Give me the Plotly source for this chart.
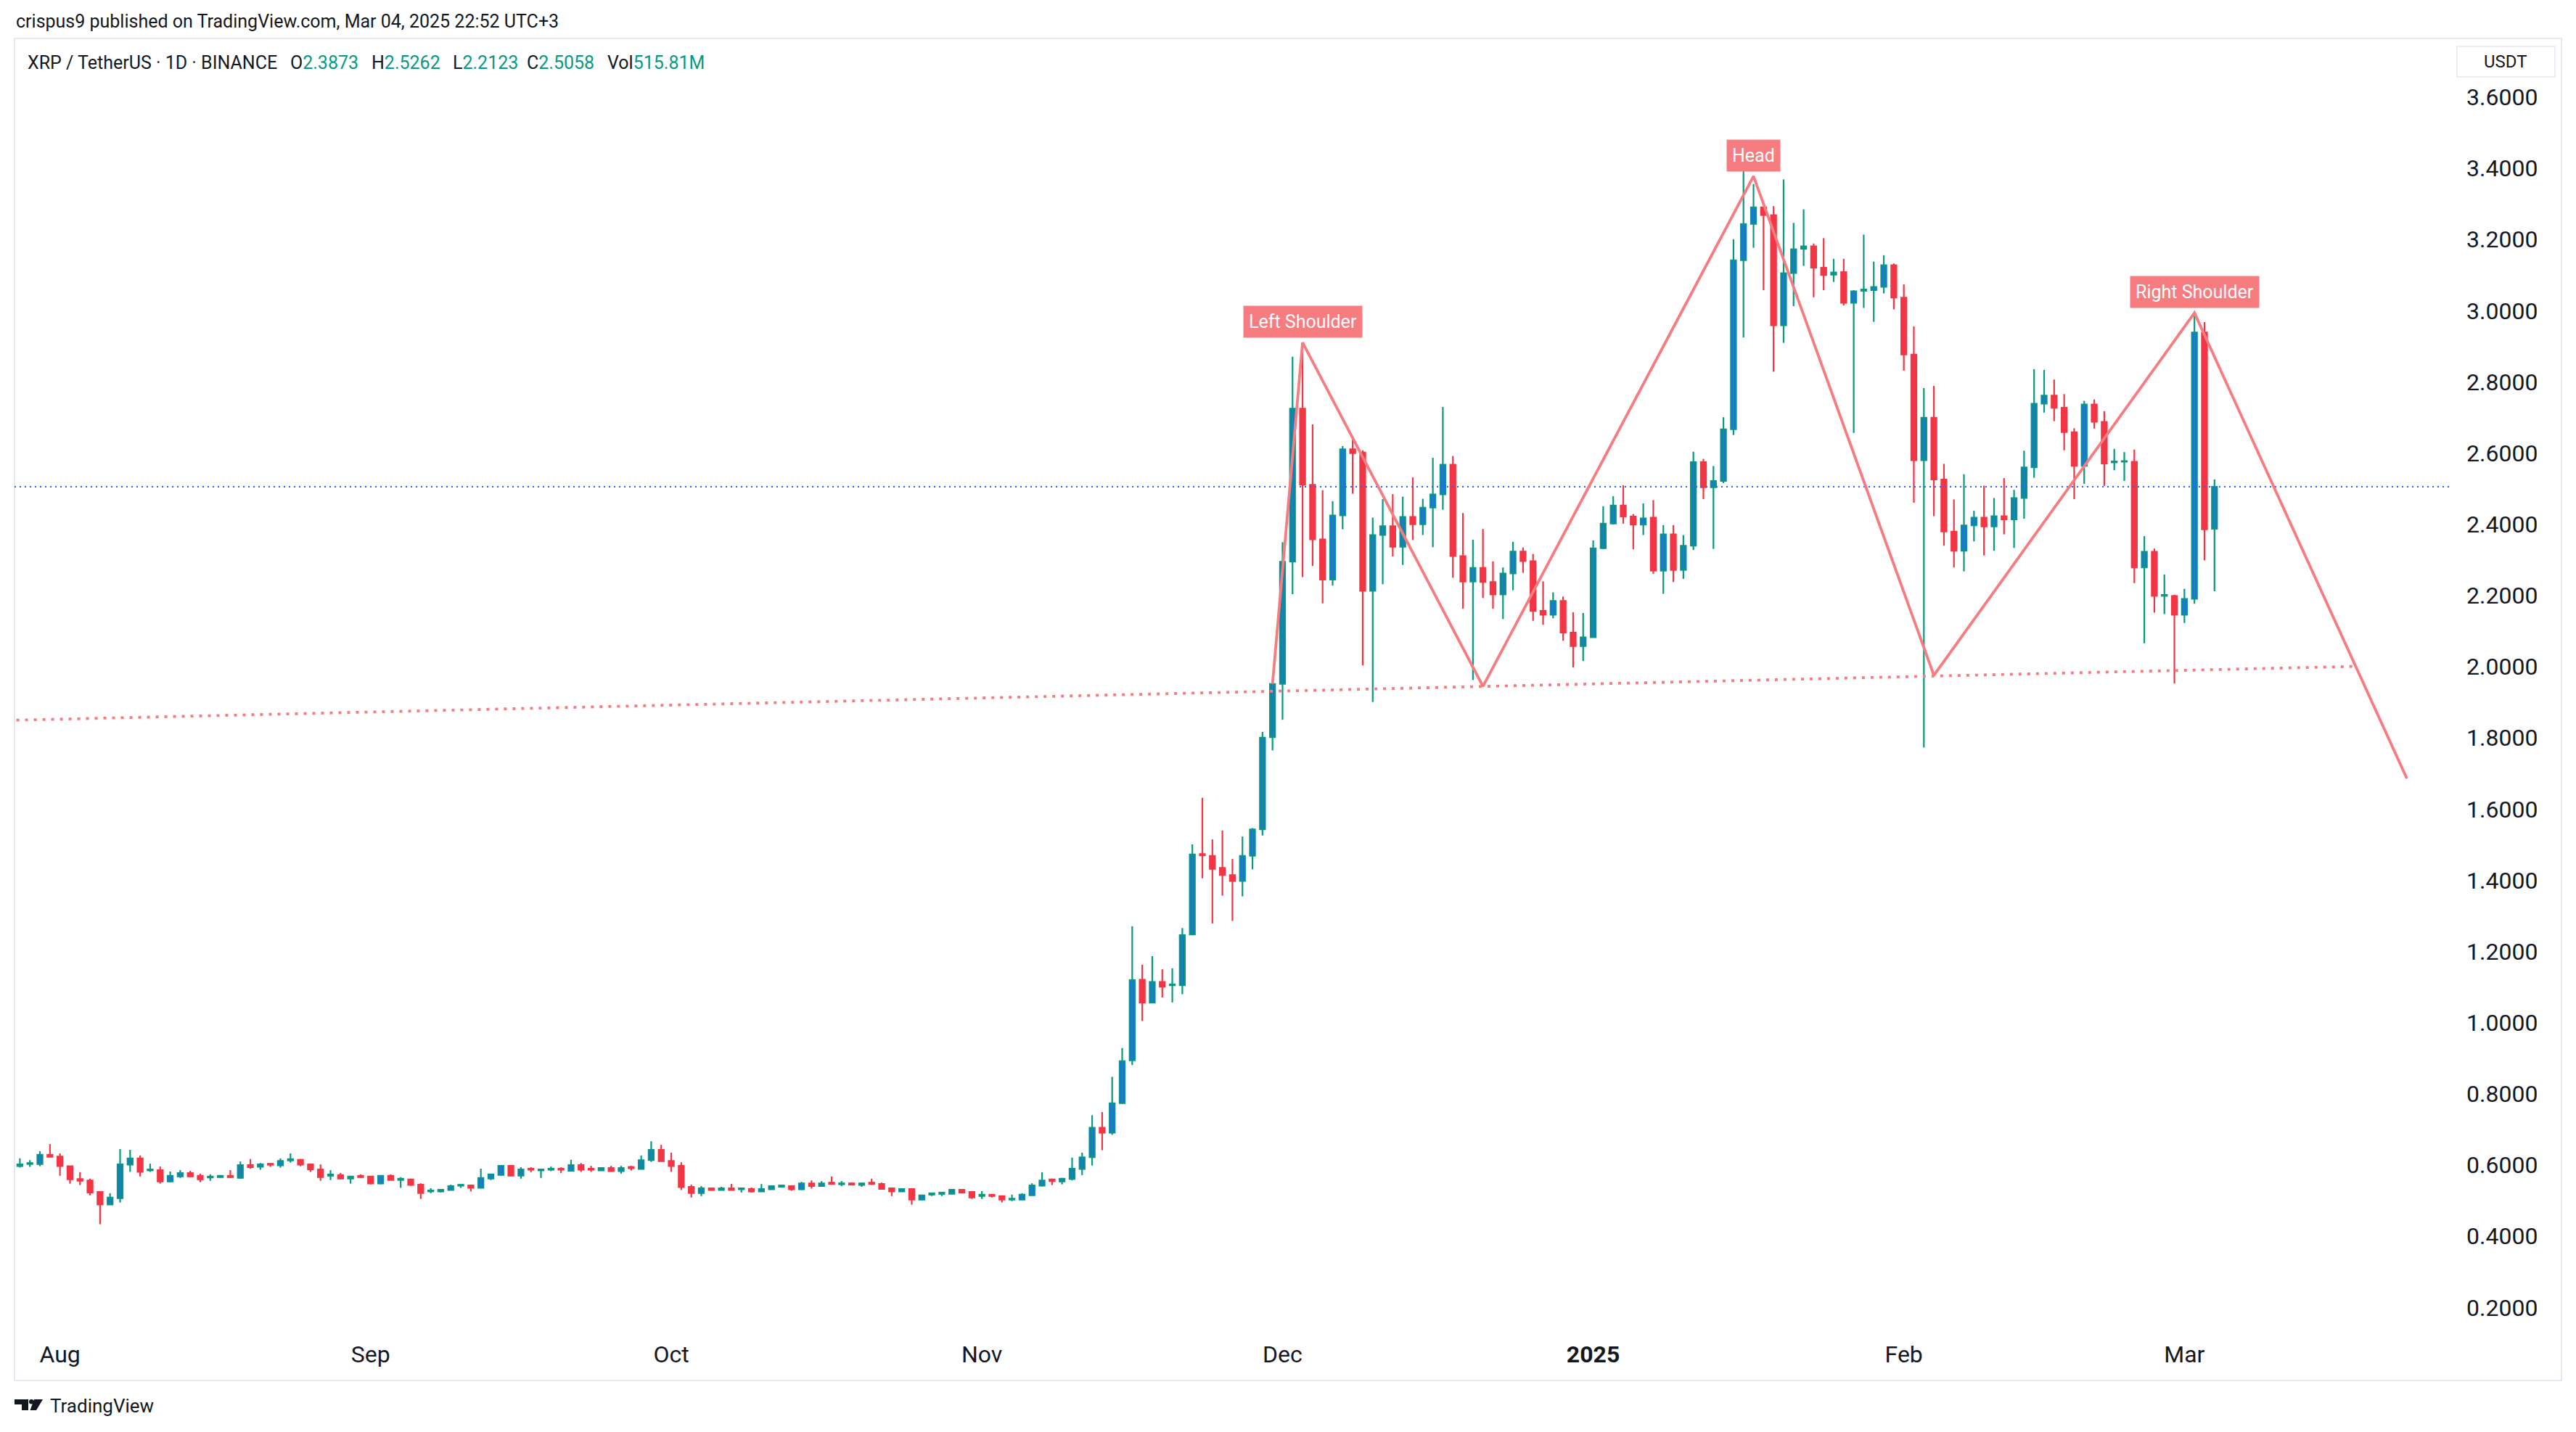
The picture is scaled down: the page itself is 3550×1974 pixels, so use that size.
import pandas as pd
import plotly.graph_objects as go

# ---------------- data ----------------
first_day = "2024-07-28"   # one candle per day from here on (XRP/USDT, 1D, Binance)

opens = [
    0.597, 0.603, 0.603, 0.629, 0.624, 0.597, 0.561, 0.557, 0.525, 0.489,
    0.507, 0.601, 0.619, 0.585, 0.586, 0.554, 0.568, 0.578, 0.570, 0.565,
    0.566, 0.570, 0.564, 0.600, 0.595, 0.604, 0.599, 0.613, 0.615, 0.602,
    0.588, 0.570, 0.572, 0.562, 0.570, 0.568, 0.548, 0.570, 0.558, 0.560,
    0.545, 0.526, 0.526, 0.530, 0.542, 0.543, 0.536, 0.562, 0.572, 0.598,
    0.570, 0.590, 0.585, 0.587, 0.590, 0.584, 0.600, 0.590, 0.585, 0.592,
    0.583, 0.595, 0.589, 0.614, 0.643, 0.612, 0.598, 0.539, 0.521, 0.535,
    0.530, 0.535, 0.532, 0.533, 0.526, 0.532, 0.539, 0.541, 0.532, 0.549,
    0.541, 0.551, 0.546, 0.549, 0.544, 0.551, 0.547, 0.535, 0.526, 0.533,
    0.503, 0.517, 0.519, 0.519, 0.531, 0.525, 0.513, 0.517, 0.513, 0.503,
    0.503, 0.515, 0.542, 0.560, 0.554, 0.561, 0.589, 0.622, 0.705, 0.691,
    0.774, 0.894, 1.121, 1.056, 1.115, 1.105, 1.105, 1.248, 1.474, 1.469,
    1.435, 1.415, 1.398, 1.469, 1.543, 1.802, 1.952, 2.295, 2.725, 2.511,
    2.358, 2.245, 2.425, 2.611, 2.602, 2.213, 2.370, 2.395, 2.337, 2.421,
    2.400, 2.447, 2.484, 2.568, 2.311, 2.239, 2.278, 2.238, 2.203, 2.262,
    2.324, 2.297, 2.157, 2.146, 2.185, 2.096, 2.058, 2.083, 2.333, 2.402,
    2.453, 2.422, 2.399, 2.419, 2.270, 2.372, 2.272, 2.340, 2.575, 2.504,
    2.522, 2.667, 3.142, 3.244, 3.291, 3.269, 2.959, 3.106, 3.174, 3.181,
    3.121, 3.101, 3.109, 3.022, 3.056, 3.058, 3.067, 3.128, 3.037, 2.877,
    2.580, 2.700, 2.526, 2.380, 2.326, 2.397, 2.419, 2.394, 2.423, 2.414,
    2.474, 2.560, 2.739, 2.762, 2.728, 2.659, 2.564, 2.737, 2.688, 2.574,
    2.576, 2.576, 2.279, 2.323, 2.199, 2.199, 2.146, 2.191, 2.939, 2.3873,
]
highs = [
    0.619, 0.614, 0.639, 0.659, 0.633, 0.598, 0.580, 0.562, 0.527, 0.521,
    0.645, 0.643, 0.627, 0.604, 0.596, 0.582, 0.586, 0.584, 0.576, 0.574,
    0.572, 0.586, 0.610, 0.617, 0.606, 0.606, 0.619, 0.633, 0.617, 0.604,
    0.602, 0.586, 0.578, 0.570, 0.574, 0.568, 0.570, 0.574, 0.566, 0.562,
    0.549, 0.535, 0.533, 0.545, 0.545, 0.543, 0.590, 0.576, 0.600, 0.598,
    0.594, 0.594, 0.588, 0.596, 0.594, 0.615, 0.606, 0.598, 0.594, 0.598,
    0.598, 0.598, 0.627, 0.667, 0.657, 0.635, 0.608, 0.545, 0.541, 0.537,
    0.539, 0.547, 0.537, 0.537, 0.547, 0.543, 0.545, 0.541, 0.553, 0.557,
    0.555, 0.568, 0.555, 0.551, 0.551, 0.562, 0.551, 0.535, 0.535, 0.533,
    0.517, 0.521, 0.523, 0.533, 0.531, 0.525, 0.527, 0.517, 0.513, 0.517,
    0.521, 0.549, 0.580, 0.562, 0.564, 0.621, 0.635, 0.740, 0.749, 0.848,
    0.929, 1.271, 1.163, 1.187, 1.150, 1.153, 1.266, 1.501, 1.632, 1.515,
    1.540, 1.460, 1.523, 1.547, 1.817, 1.957, 2.350, 2.871, 2.911, 2.681,
    2.496, 2.465, 2.620, 2.648, 2.608, 2.419, 2.471, 2.485, 2.478, 2.532,
    2.472, 2.587, 2.730, 2.592, 2.432, 2.357, 2.387, 2.296, 2.279, 2.351,
    2.335, 2.317, 2.240, 2.209, 2.197, 2.153, 2.151, 2.355, 2.451, 2.479,
    2.510, 2.429, 2.459, 2.468, 2.398, 2.398, 2.370, 2.604, 2.584, 2.564,
    2.701, 3.201, 3.401, 3.356, 3.291, 3.294, 3.369, 3.247, 3.285, 3.189,
    3.204, 3.146, 3.146, 3.058, 3.214, 3.138, 3.156, 3.133, 3.074, 2.956,
    2.783, 2.789, 2.570, 2.470, 2.541, 2.438, 2.509, 2.474, 2.530, 2.497,
    2.607, 2.836, 2.834, 2.807, 2.766, 2.670, 2.747, 2.751, 2.718, 2.612,
    2.603, 2.610, 2.367, 2.332, 2.259, 2.202, 2.219, 2.997, 2.968, 2.5262,
]
lows = [
    0.593, 0.595, 0.597, 0.623, 0.570, 0.548, 0.544, 0.515, 0.434, 0.489,
    0.495, 0.581, 0.568, 0.581, 0.548, 0.552, 0.564, 0.566, 0.552, 0.556,
    0.565, 0.564, 0.562, 0.590, 0.587, 0.595, 0.593, 0.607, 0.597, 0.581,
    0.556, 0.558, 0.560, 0.548, 0.564, 0.546, 0.546, 0.558, 0.536, 0.542,
    0.505, 0.521, 0.523, 0.530, 0.536, 0.526, 0.536, 0.558, 0.572, 0.570,
    0.562, 0.580, 0.564, 0.583, 0.578, 0.582, 0.581, 0.581, 0.585, 0.583,
    0.576, 0.585, 0.589, 0.609, 0.611, 0.581, 0.530, 0.509, 0.513, 0.528,
    0.530, 0.530, 0.523, 0.523, 0.526, 0.532, 0.537, 0.528, 0.530, 0.534,
    0.539, 0.545, 0.541, 0.545, 0.539, 0.544, 0.532, 0.513, 0.526, 0.489,
    0.501, 0.513, 0.513, 0.519, 0.521, 0.505, 0.505, 0.509, 0.495, 0.499,
    0.503, 0.515, 0.540, 0.544, 0.546, 0.557, 0.572, 0.599, 0.642, 0.685,
    0.772, 0.881, 1.005, 1.056, 1.071, 1.057, 1.080, 1.248, 1.406, 1.279,
    1.357, 1.286, 1.355, 1.431, 1.526, 1.765, 1.851, 2.204, 2.252, 2.283,
    2.178, 2.228, 2.386, 2.486, 2.004, 1.901, 2.232, 2.310, 2.286, 2.356,
    2.370, 2.336, 2.441, 2.250, 2.163, 1.963, 2.193, 2.163, 2.134, 2.215,
    2.264, 2.129, 2.118, 2.136, 2.073, 1.998, 2.016, 2.082, 2.331, 2.400,
    2.402, 2.330, 2.370, 2.261, 2.205, 2.238, 2.247, 2.328, 2.471, 2.331,
    2.516, 2.651, 2.925, 3.177, 3.058, 2.829, 2.910, 3.013, 3.126, 3.038,
    3.058, 3.081, 3.015, 2.657, 3.008, 2.969, 3.049, 3.004, 2.832, 2.461,
    1.773, 2.423, 2.340, 2.279, 2.268, 2.352, 2.313, 2.326, 2.372, 2.334,
    2.416, 2.531, 2.714, 2.690, 2.608, 2.471, 2.514, 2.669, 2.508, 2.552,
    2.522, 2.235, 2.066, 2.152, 2.148, 1.953, 2.123, 2.177, 2.299, 2.2123,
]
closes = [
    0.602, 0.606, 0.629, 0.623, 0.597, 0.560, 0.556, 0.523, 0.489, 0.509,
    0.602, 0.619, 0.581, 0.588, 0.554, 0.570, 0.578, 0.568, 0.560, 0.568,
    0.570, 0.566, 0.600, 0.594, 0.602, 0.601, 0.612, 0.617, 0.601, 0.588,
    0.566, 0.574, 0.562, 0.568, 0.566, 0.548, 0.570, 0.558, 0.562, 0.544,
    0.521, 0.529, 0.531, 0.541, 0.545, 0.536, 0.564, 0.574, 0.598, 0.570,
    0.588, 0.587, 0.588, 0.590, 0.587, 0.600, 0.587, 0.587, 0.592, 0.583,
    0.592, 0.591, 0.614, 0.643, 0.611, 0.597, 0.538, 0.521, 0.535, 0.530,
    0.535, 0.530, 0.535, 0.526, 0.533, 0.541, 0.543, 0.532, 0.549, 0.541,
    0.549, 0.547, 0.549, 0.545, 0.549, 0.547, 0.533, 0.526, 0.533, 0.503,
    0.515, 0.521, 0.523, 0.531, 0.523, 0.509, 0.517, 0.513, 0.503, 0.506,
    0.517, 0.543, 0.557, 0.555, 0.562, 0.590, 0.622, 0.705, 0.691, 0.774,
    0.892, 1.120, 1.056, 1.115, 1.101, 1.108, 1.246, 1.473, 1.470, 1.432,
    1.415, 1.398, 1.469, 1.543, 1.801, 1.952, 2.295, 2.725, 2.511, 2.358,
    2.245, 2.425, 2.611, 2.600, 2.213, 2.370, 2.395, 2.337, 2.421, 2.400,
    2.447, 2.484, 2.568, 2.311, 2.239, 2.278, 2.238, 2.203, 2.262, 2.324,
    2.297, 2.157, 2.146, 2.185, 2.096, 2.058, 2.083, 2.333, 2.402, 2.453,
    2.422, 2.399, 2.417, 2.270, 2.372, 2.272, 2.340, 2.575, 2.504, 2.522,
    2.667, 3.142, 3.244, 3.291, 3.269, 2.959, 3.106, 3.173, 3.181, 3.121,
    3.100, 3.108, 3.022, 3.055, 3.060, 3.067, 3.128, 3.037, 2.877, 2.580,
    2.700, 2.526, 2.380, 2.326, 2.397, 2.419, 2.394, 2.423, 2.414, 2.474,
    2.560, 2.739, 2.762, 2.728, 2.659, 2.564, 2.737, 2.688, 2.571, 2.577,
    2.578, 2.279, 2.323, 2.199, 2.202, 2.146, 2.191, 2.939, 2.386, 2.5058,
]
last_close = 2.5058

# head & shoulders drawing (day offsets from first_day, prices)
pattern_day = [125, 128, 146, 173, 191, 217, 238.2]
pattern_price = [1.952, 2.911, 1.945, 3.378, 1.976, 2.994, 1.686]
pattern_labels = [("Left Shoulder", 1), ("Head", 3), ("Right Shoulder", 5)]
neck_day = [-0.35, 232.9]
neck_price = [1.850, 2.001]

month_ticks = ["2024-08-01", "2024-09-01", "2024-10-01", "2024-11-01",
               "2024-12-01", "2025-01-01", "2025-02-01", "2025-03-01"]
month_labels = ["Aug", "Sep", "Oct", "Nov", "Dec", "<b>2025</b>", "Feb", "Mar"]
price_ticks = [0.2, 0.4, 0.6, 0.8, 1.0, 1.2, 1.4, 1.6, 1.8, 2.0,
               2.2, 2.4, 2.6, 2.8, 3.0, 3.2, 3.4, 3.6]

header_text = "crispus9 published on TradingView.com, Mar 04, 2025 22:52 UTC+3"
symbol_text = "XRP / TetherUS · 1D · BINANCE"
ohlc_parts = [("O", "2.3873"), ("H", "2.5262"), ("L", "2.2123"),
              ("C", "2.5058"), ("Vol", "515.81M")]

# ---------------- geometry / style ----------------
W, H = 3550, 1974
PL, PR, PT, PB = 20, 3376, 54, 1835          # plot box in page pixels
X0_PX, DAY_PX = 27.4, 13.81                  # first candle centre, px per day
Y36_PX, UNIT_PX = 134.0, 490.7               # pixel of 3.6000, px per 1.0
UP_FILL, UP_LINE, DOWN = "#2962ff", "#089981", "#f23645"
PATTERN = "#f77c80"
TXT = "#131722"
FONT = "Roboto"

base = pd.Timestamp(first_day)
dates = pd.date_range(first_day, periods=len(opens), freq="D")


def day(k):
    return base + pd.Timedelta(days=k)


def pxx(x):
    return (x - PL) / (PR - PL)


def pxy(y):
    return (PB - y) / (PB - PT)


x_range = [day((PL - X0_PX) / DAY_PX), day((PR - X0_PX) / DAY_PX)]
y_range = [3.6 - (PB - Y36_PX) / UNIT_PX, 3.6 + (Y36_PX - PT) / UNIT_PX]

body_ms = 7.3 / DAY_PX * 86400000

fig = go.Figure()

# wicks
for up in (True, False):
    xs, ys = [], []
    for d, o, h, l, c in zip(dates, opens, highs, lows, closes):
        if (c >= o) == up:
            xs += [d, d, None]
            ys += [l, h, None]
    fig.add_trace(go.Scatter(x=xs, y=ys, mode="lines",
                             line=dict(color=UP_LINE if up else DOWN, width=2.2),
                             hoverinfo="skip", showlegend=False))

# bodies
for up in (True, False):
    bx, bb, bh = [], [], []
    for d, o, c in zip(dates, opens, closes):
        if (c >= o) == up:
            bx.append(d)
            bb.append(min(o, c))
            bh.append(abs(c - o))
    fig.add_trace(go.Bar(x=bx, y=bh, base=bb, width=body_ms,
                         marker=dict(color=UP_FILL if up else DOWN,
                                     line=dict(color=UP_LINE if up else DOWN, width=2)),
                         hoverinfo="skip", showlegend=False))

# last price line
fig.add_trace(go.Scatter(x=x_range, y=[last_close, last_close], mode="lines",
                         line=dict(color="#2962ff", width=2, dash="2px,5px"),
                         hoverinfo="skip", showlegend=False))

# neckline
fig.add_trace(go.Scatter(x=[day(k) for k in neck_day], y=neck_price, mode="lines",
                         line=dict(color=PATTERN, width=3.8, dash="4px,8px"),
                         hoverinfo="skip", showlegend=False))

# pattern
fig.add_trace(go.Scatter(x=[day(k) for k in pattern_day], y=pattern_price, mode="lines",
                         line=dict(color=PATTERN, width=3.8),
                         hoverinfo="skip", showlegend=False))

annotations = []
for label, i in pattern_labels:
    annotations.append(dict(x=day(pattern_day[i]), y=pattern_price[i], xref="x", yref="y",
                            text=label, showarrow=False, yanchor="bottom", yshift=6,
                            bgcolor=PATTERN, borderpad=7,
                            font=dict(family=FONT, size=25, color="white")))

annotations.append(dict(x=pxx(20), y=pxy(30), xref="paper", yref="paper",
                        text=header_text, showarrow=False, xanchor="left",
                        yanchor="middle", font=dict(family=FONT, size=25, color=TXT)))
annotations.append(dict(x=pxx(36), y=pxy(86), xref="paper", yref="paper",
                        text=symbol_text, showarrow=False, xanchor="left",
                        yanchor="middle", font=dict(family=FONT, size=25, color=TXT)))
for (k, v), xp in zip(ohlc_parts, [398, 510, 622, 724, 835]):
    annotations.append(dict(x=pxx(xp), y=pxy(86), xref="paper", yref="paper",
                            text=f"{k}<span style='color:{UP_LINE}'>{v}</span>",
                            showarrow=False, xanchor="left", yanchor="middle",
                            font=dict(family=FONT, size=25, color=TXT)))
annotations.append(dict(x=pxx(3453), y=pxy(85), xref="paper", yref="paper",
                        text="USDT", showarrow=False, xanchor="center", yanchor="middle",
                        font=dict(family=FONT, size=24, color=TXT)))
annotations.append(dict(x=pxx(67), y=pxy(1938), xref="paper", yref="paper",
                        text="TradingView", showarrow=False, xanchor="left",
                        yanchor="middle", font=dict(family=FONT, size=26, color=TXT)))

shapes = [
    # chart frame
    dict(type="rect", xref="paper", yref="paper", x0=pxx(20), x1=pxx(3530),
         y0=pxy(1903), y1=pxy(53), line=dict(color="#e6e9f0", width=2), layer="below"),
    # currency box
    dict(type="rect", xref="paper", yref="paper", x0=pxx(3386), x1=pxx(3521),
         y0=pxy(106), y1=pxy(64), line=dict(color="#e6e9f0", width=1.5), layer="below"),
    # logo
    dict(type="rect", xref="paper", yref="paper", x0=pxx(20), x1=pxx(39),
         y0=pxy(1936), y1=pxy(1929), fillcolor="#131722", line=dict(width=0)),
    dict(type="rect", xref="paper", yref="paper", x0=pxx(30), x1=pxx(39),
         y0=pxy(1944), y1=pxy(1929), fillcolor="#131722", line=dict(width=0)),
    dict(type="circle", xref="paper", yref="paper", x0=pxx(40), x1=pxx(46.5),
         y0=pxy(1935.5), y1=pxy(1929), fillcolor="#131722", line=dict(width=0)),
    dict(type="path", xref="paper", yref="paper",
         path=(f"M {pxx(47)} {pxy(1929)} L {pxx(59)} {pxy(1929)} "
               f"L {pxx(50)} {pxy(1944)} L {pxx(41.5)} {pxy(1944)} Z"),
         fillcolor="#131722", line=dict(width=0)),
]

fig.update_layout(
    width=W, height=H,
    margin=dict(l=PL, r=W - PR, t=PT, b=H - PB, pad=0),
    paper_bgcolor="white", plot_bgcolor="white",
    barmode="overlay", showlegend=False,
    font=dict(family=FONT, color=TXT),
    annotations=annotations, shapes=shapes,
    xaxis=dict(type="date", range=x_range, showgrid=False, zeroline=False,
               showline=False, ticks="", tickvals=month_ticks, ticktext=month_labels,
               tickfont=dict(family=FONT, size=32, color=TXT), ticklabelstandoff=10,
               fixedrange=True),
    yaxis=dict(side="right", range=y_range, showgrid=False, zeroline=False,
               showline=False, ticks="", tickvals=price_ticks,
               ticktext=[f"{v:.4f}" for v in price_ticks],
               tickfont=dict(family=FONT, size=32, color=TXT), ticklabelstandoff=22,
               fixedrange=True),
)

fig.write_html("out.html", config={"displayModeBar": False},
               post_script="document.body.style.margin='0';document.body.style.overflow='hidden';")
